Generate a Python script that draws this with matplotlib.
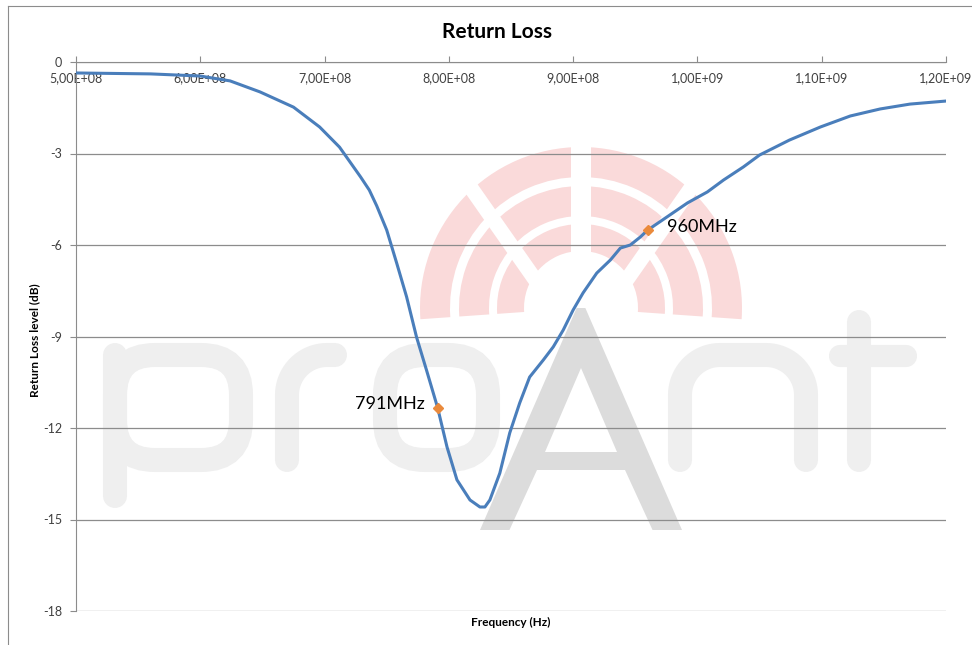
import numpy as np
import matplotlib
matplotlib.use('Agg')
import matplotlib.pyplot as plt
from matplotlib.patches import Wedge, FancyBboxPatch, Polygon
from matplotlib.lines import Line2D
from matplotlib.ticker import FuncFormatter

plt.rcParams['font.family'] = ['Lato', 'DejaVu Sans']
plt.rcParams['axes.unicode_minus'] = False

# Measured return loss (frequency in MHz, level in dB)
freq_mhz = [500, 560, 600, 624, 648, 675, 696, 712, 729, 736, 742, 750, 758, 766,
            774, 782, 791, 798.5, 806.5, 817, 825, 829, 833, 841, 849, 857,
            865, 876, 884, 892, 900, 908, 919, 930, 938, 946, 954, 960, 975.5,
            992, 1008, 1021, 1037, 1050, 1074, 1099, 1123, 1147, 1171, 1200]
level_db = [-0.36, -0.39, -0.46, -0.62, -0.98, -1.48, -2.13, -2.79, -3.77, -4.2,
            -4.72, -5.51, -6.59, -7.70, -9.02, -10.10, -11.34, -12.62, -13.70,
            -14.36, -14.59, -14.59, -14.36, -13.48, -12.16, -11.18, -10.33,
            -9.77, -9.34, -8.79, -8.13, -7.57, -6.92, -6.49, -6.10, -6.00,
            -5.74, -5.51, -5.08, -4.62, -4.26, -3.87, -3.44, -3.05, -2.56,
            -2.13, -1.77, -1.54, -1.38, -1.28]

marker_mhz = [791, 960]
marker_db = [-11.34, -5.51]
marker_text = ['791MHz', '960MHz']

y_ticks = [0, -3, -6, -9, -12, -15, -18]
x_ticks_hz = [5e8, 6e8, 7e8, 8e8, 9e8, 1e9, 1.1e9, 1.2e9]

W, H = 972, 645


def Y(y):
    # watermark coordinates are taken in image pixels, y going down
    return H - y


def arc(cx, cy, r, a0, a1, n=20):
    a = np.radians(np.linspace(a0, a1, n))
    return cx + r * np.cos(a), cy + r * np.sin(a)


def draw_watermark(fig):
    wm = fig.add_axes([0, 0, 1, 1], zorder=0)
    wm.set_xlim(0, W)
    wm.set_ylim(0, H)
    wm.axis('off')

    pink = '#fadada'
    light = '#efefef'
    dark = '#dcdcdc'

    # red arcs
    cx, cy = 581, Y(308)
    for r, w in [(161, 30), (122, 30), (84, 27)]:
        wm.add_patch(Wedge((cx, cy), r, -4, 184, width=w, color=pink, lw=0))
    wm.plot([581, 581], [cy, cy + 180], color='white', lw=14.4, solid_capstyle='butt')
    k = 2.2
    wm.plot([555, 555 - 56 * k], [cy, cy + 80 * k], color='white', lw=10.8, solid_capstyle='butt')
    wm.plot([607, 607 + 56 * k], [cy, cy + 80 * k], color='white', lw=10.8, solid_capstyle='butt')

    lw = 17.3
    kw = dict(color=light, lw=lw, solid_capstyle='round', solid_joinstyle='round')
    # p
    wm.add_patch(FancyBboxPatch((115, Y(460)), 126, 105, boxstyle='round,pad=0,rounding_size=40',
                                fill=False, ec=light, lw=lw))
    wm.plot([115, 115], [Y(355), Y(496)], **kw)
    # r
    ax_, ay_ = arc(327, Y(395), 40, 180, 90)
    wm.plot(np.r_[287, ax_, 335], np.r_[Y(460), ay_, Y(355)], **kw)
    # o
    wm.add_patch(FancyBboxPatch((385, Y(460)), 103, 105, boxstyle='round,pad=0,rounding_size=40',
                                fill=False, ec=light, lw=lw))
    # n
    a1x, a1y = arc(720, Y(395), 40, 180, 90)
    a2x, a2y = arc(766, Y(395), 40, 90, 0)
    wm.plot(np.r_[680, a1x, a2x, 806], np.r_[Y(460), a1y, a2y, Y(460)], **kw)
    # t
    wm.plot([859, 859], [Y(322), Y(460)], **kw)
    wm.plot([840, 906], [Y(356), Y(356)], color=light, lw=16, solid_capstyle='round')

    # A
    wm.add_patch(Polygon([(581, Y(298)), (480, Y(530)), (682, Y(530))], closed=True, color=dark, lw=0))
    wm.add_patch(Polygon([(581, Y(368)), (545, Y(452)), (617, Y(452))], closed=True, color='white', lw=0))
    wm.add_patch(Polygon([(537, Y(470)), (625, Y(470)), (653, Y(531)), (509, Y(531))],
                         closed=True, color='white', lw=0))


def plot_data():
    fig = plt.figure(figsize=(W / 100, H / 100), dpi=100)
    fig.patch.set_facecolor('white')
    draw_watermark(fig)

    ax = fig.add_axes([76 / W, 1 - 611 / H, 870 / W, 549 / H], zorder=1)
    ax.set_facecolor('none')

    freq_hz = np.array(freq_mhz) * 1e6
    ax.plot(freq_hz, level_db, color='#4a7ebb', lw=2.2, zorder=3,
            solid_joinstyle='round')
    ax.plot(np.array(marker_mhz) * 1e6, marker_db, ls='none', marker='D', ms=5.5,
            color='#ea8a3c', mec='#ea8a3c', zorder=4)
    ax.annotate(marker_text[0], (marker_mhz[0] * 1e6, marker_db[0]), xytext=(-9, 3),
                textcoords='offset points', ha='right', va='center', fontsize=13)
    ax.annotate(marker_text[1], (marker_mhz[1] * 1e6, marker_db[1]), xytext=(14, 2),
                textcoords='offset points', ha='left', va='center', fontsize=13)

    ax.set_xlim(5e8, 1.2e9)
    ax.set_ylim(-18, 0)
    ax.set_xticks(x_ticks_hz)
    ax.set_yticks(y_ticks)
    ax.xaxis.set_major_formatter(FuncFormatter(lambda v, p: f'{v:.2E}'.replace('.', ',')))

    grey = '#8c8c8c'
    ax.spines['bottom'].set_position(('data', 0))
    ax.spines['bottom'].set_color(grey)
    ax.spines['left'].set_color(grey)
    ax.spines['top'].set_visible(False)
    ax.spines['right'].set_visible(False)
    ax.tick_params(axis='x', direction='in', length=4, color=grey, pad=7, labelsize=9, labelcolor='#404040')
    ax.tick_params(axis='y', direction='out', length=4, color=grey, pad=6, labelsize=9, labelcolor='#404040')
    ax.yaxis.grid(True, color=grey, lw=0.9)
    ax.set_axisbelow(True)

    fig.text(496.5 / W, 1 - 32 / H, 'Return Loss', ha='center', va='center',
             fontsize=15, fontweight='bold')
    fig.text(511 / W, 1 - 622 / H, 'Frequency (Hz)', ha='center', va='center',
             fontsize=8.5, fontweight='bold')
    fig.text(35 / W, 1 - 340 / H, 'Return Loss level (dB)', ha='center', va='center',
             rotation=90, fontsize=8.5, fontweight='bold')

    # chart area border
    fig.add_artist(Line2D([8 / W, 8 / W], [0, 1 - 6 / H], color=grey, lw=0.8))
    fig.add_artist(Line2D([8 / W, 1], [1 - 6 / H, 1 - 6 / H], color=grey, lw=0.8))

    fig.savefig('out.png', dpi=100)


# -----------------------------------------------------------------------------
if __name__ == '__main__':

    plot_data()
